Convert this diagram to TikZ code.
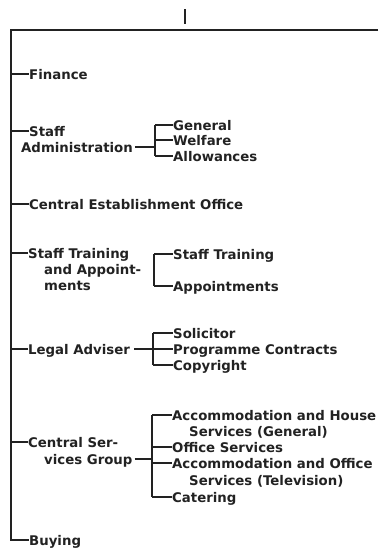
\documentclass[tikz,border=0pt]{standalone}
\usepackage{fontspec}
\newfontfamily\orgfont{DejaVu Sans}
\usepackage{xcolor}
\usepackage{tikz}
\usetikzlibrary{positioning}
\definecolor{paper}{HTML}{FFFFFF}
\definecolor{ink}{HTML}{222222}
\tikzset{
  rule/.style={draw=ink, line width=1.1pt},
  unit/.style={text=ink, font=\orgfont\bfseries\fontsize{13.3}{16}\selectfont, anchor=west,
    inner sep=0pt, text height=10pt, text depth=0pt},
}

\begin{document}
\begin{tikzpicture}[x=1pt,y=-1pt]
  \useasboundingbox[fill=paper] (0,0) rectangle (382,549);
  \coordinate (S1) at (185,9);
  \coordinate (S2) at (185,24);
  \coordinate (T) at (11,30);
  \coordinate (R) at (378,30);
  \coordinate (B) at (11,540);
  \coordinate (b1) at (155,0);
  \coordinate (b2) at (154,0);
  \coordinate (b3) at (153,0);
  \coordinate (b4) at (152,0);

  \node[unit] (fin) at (29,74) {Finance};
  \node[unit] (adm1) at (29,131) {Staff};
  \node[unit] (adm2) at (21,147) {Administration};
  \node[unit] (gen) at (173,125) {General};
  \node[unit] (wel) at (173,140) {Welfare};
  \node[unit] (alw) at (173,156) {Allowances};
  \node[unit] (ceo) at (29,204) {Central Establishment Office};
  \node[unit] (trn1) at (28,253) {Staff Training};
  \node[unit] (trn2) at (44,269) {and Appoint-};
  \node[unit] (trn3) at (44,285) {ments};
  \node[unit] (stt) at (173,254) {Staff Training};
  \node[unit] (app) at (173,286) {Appointments};
  \node[unit] (leg) at (28,349) {Legal Adviser};
  \node[unit] (sol) at (173,333) {Solicitor};
  \node[unit] (prg) at (173,349) {Programme Contracts};
  \node[unit] (cpy) at (173,365) {Copyright};
  \node[unit] (csg1) at (28,442) {Central Ser-};
  \node[unit] (csg2) at (44,459) {vices Group};
  \node[unit] (ach1) at (172,415) {Accommodation and House};
  \node[unit] (ach2) at (189,431) {Services (General)};
  \node[unit] (ofs) at (172,447) {Office Services};
  \node[unit] (aco1) at (172,463) {Accommodation and Office};
  \node[unit] (aco2) at (189,480) {Services (Television)};
  \node[unit] (cat) at (172,497) {Catering};
  \node[unit] (buy) at (29,540) {Buying};

  \draw[rule] (S1)--(S2);
  \draw[rule] (R)--(T)--(B)--(buy.west);
  \foreach \n in {fin,adm1,ceo,trn1,leg,csg1}
    \draw[rule] (\n.west -| T)--(\n.west);

  \draw[rule, shorten <=2pt] (adm2.east)--(adm2.east -| b1);
  \draw[rule] (gen.west -| b1)--(alw.west -| b1);
  \foreach \n in {gen,wel,alw}
    \draw[rule] (\n.west -| b1)--(\n.west);

  \draw[rule] (stt.west -| b2)--(app.west -| b2);
  \foreach \n in {stt,app}
    \draw[rule] (\n.west -| b2)--(\n.west);

  \draw[rule, shorten <=4pt] (leg.east)--(leg.east -| b3);
  \draw[rule] (sol.west -| b3)--(cpy.west -| b3);
  \foreach \n in {sol,prg,cpy}
    \draw[rule] (\n.west -| b3)--(\n.west);

  \draw[rule, shorten <=2pt] (csg2.east)--(csg2.east -| b4);
  \draw[rule] (ach1.west -| b4)--(cat.west -| b4);
  \foreach \n in {ach1,ofs,aco1,cat}
    \draw[rule] (\n.west -| b4)--(\n.west);
\end{tikzpicture}
\end{document}
